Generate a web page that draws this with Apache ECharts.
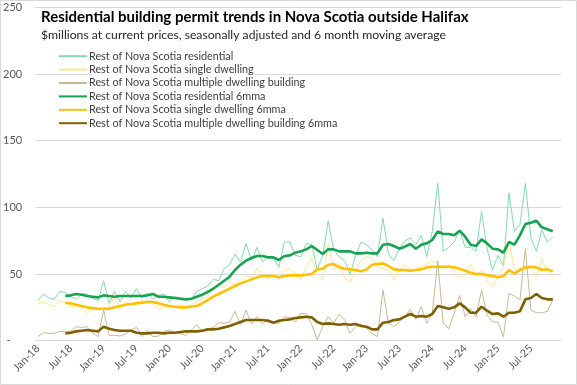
<!DOCTYPE html>
<html><head><meta charset="utf-8">
<script src="https://cdn.jsdelivr.net/npm/echarts@6/dist/echarts.min.js"></script>
<style>html,body{margin:0;padding:0;background:#fff}#c{width:577px;height:385px}</style>
</head><body><div id="c"></div>
<script>
const years = ['18','19','20','21','22','23','24','25'];
const months = ['Jan','Feb','Mar','Apr','May','Jun','Jul','Aug','Sep','Oct','Nov','Dec'];
const categories = [];
years.forEach(y => months.forEach(m => categories.push(m + '-' + y)));

const yTicks = [0, 50, 100, 150, 200, 250];

const residential = [30,35,32,31,37,36,33,31,35,35,32,30,
 45,28,37,29,37,32,39,32,36,31,34,35,
 29,33,32,31,31,37,39,41,46,45,54,57,
 65,59,73,60,70,59,63,62,55,74,74,64,
 63,73,72,53,64,90,68,63,60,50,64,74,
 72,68,63,92,65,60,69,75,77,72,79,63,
 82,118,67,70,74,83,70,70,67,97,69,53,
 64,56,111,82,87,118,77,67,83,74,78,null];

const single = [27.5,29,27,25.5,30,28.5,26,25,25.5,20.5,24,23,
 23.5,26,33,23.5,29,27,29,30,31,29,23.5,25.5,
 25,25.5,27,25.5,27,29,32,33,38,42,40,44,
 42,45.5,49,47,54,50.5,46,50.5,45.5,54,53.5,50.5,
 45.5,55.5,62,50.5,45.5,73,53,58,47,44,53,60,
 63,62,55,54,53,45.5,53,57,54,53,55.5,57,
 60,58,53,57,52,47,50.5,58,48,53,45.5,40.5,
 48,55.5,75,53,54,52,55.5,47,61,54,48.5,null];

const multiple = [3,6,5.5,5.5,7,7,7,10.5,10,10.5,5.5,3,
 23,4,4,3.5,5,8,10,3,8,3,3.5,7,
 8,6,5.5,4,8,12,7,8.5,10,13.5,13,14,
 22,12,23,12.5,18,12.5,16,14,13,18,17.5,14,
 20.5,20,12,0.5,10.5,18,13,20,15.5,5.5,10.5,12.5,
 9,5.5,3,38,13,10.5,14,18,23.5,16,25.5,13,
 20.5,60,13,9,20.5,34,18,24,18,38,19,14,
 14,3,35.5,33.5,30.5,69,23,21,21,22,30.5,null];

const residential6 = [null,null,null,null,null,33.5,34,35,34.5,33.5,33,32.5,
 34,33.5,33,33.5,33.5,33.5,33.5,33.5,34,35,33,33,
 32.5,32,31.5,31,31.5,33,34.5,36.5,39,42,45,48,
 53,57,60,62,63.5,63.5,62.5,62.5,60.5,63.5,64,66,
 67,68.5,71,68,65,68.5,68.5,67,67,67,65.5,65.5,
 66,65.5,65.5,72,72.5,71,69,70.5,72.5,69,72,73,
 75.5,82,80,80,79,82.5,78,72,71,76,73,69,
 68.5,66,74,72,79,87.5,88.5,90,85,83.5,82,null];

const single6 = [null,null,null,null,null,28.5,28,27,26,25,24.5,24,
 24,24,25,26,27,27.5,28,28.5,29,29,28,27,
 26,25.5,25,25,25.5,26,28,30.5,33,35,37,39,
 41,43,44.5,46,47.5,48.5,48.5,48.5,47.5,48.5,49,49,
 49,49.5,50,53.5,54,57,57.5,55,54,53.5,53,52,
 53.5,57,57.5,58,56,53.5,53,53,52.5,53,53.5,55,
 55.5,55.5,55.5,55.5,55,54,52.5,51,50,50,49,48.5,
 47.5,48.5,53,50.5,53,55,55.5,55,53,53.5,52,null];

const multiple6 = [null,null,null,null,null,5.5,6,7,7.5,8,7.5,7,
 10.5,9,8,7.5,7.5,7.5,6,5.5,5.5,6,6,5.5,
 6,6,6.5,7,7,7,7.5,8.5,8.5,9,10,11,
 12.5,14,15.5,15.5,15.5,15.5,15,13.5,15,15.5,16,17,
 17.5,18,17.5,14,12.5,13,12.5,12,12.5,12,12.5,11,
 10.5,8.5,8.5,13.5,14,15.5,16,18,20,18,18.5,18,
 20,26,25,24,25,28,25,21,21,25.5,22.5,20,
 20.5,18,21,21,22,31,32,35,32,31,31,null];

const names = [
 'Rest of Nova Scotia residential',
 'Rest of Nova Scotia single dwelling',
 'Rest of Nova Scotia multiple dwelling building',
 'Rest of Nova Scotia residential 6mma',
 'Rest of Nova Scotia single dwelling 6mma',
 'Rest of Nova Scotia multiple dwelling building 6mma'
];
const dataSets = [residential, single, multiple, residential6, single6, multiple6];
const colors = ['#86d8b0', '#ffe394', '#c8b994', '#16a352', '#ffc000', '#7f6000'];
const widths = [1, 1, 1, 2.6, 2.6, 2.6];

const chart = echarts.init(document.getElementById('c'), null, {renderer: 'canvas'});
const FONT = 'Lato';
chart.setOption({
  animation: false,
  backgroundColor: '#fff',
  color: colors,
  textStyle: {fontFamily: FONT},
  title: [
    {text: 'Residential building permit trends in Nova Scotia outside Halifax', left: 41, top: 10, padding: 0,
     textStyle: {fontFamily: FONT, fontSize: 15, fontWeight: 'bold', color: '#000'}},
    {text: '$millions at current prices, seasonally adjusted and 6 month moving average', left: 41, top: 29, padding: 0,
     textStyle: {fontFamily: FONT, fontSize: 12.2, fontWeight: 'normal', color: '#262626'}}
  ],
  legend: {
    orient: 'vertical', left: 58, top: 49.5, padding: 0, itemGap: 0,
    itemWidth: 28, itemHeight: 8, icon: 'inherit',
    itemStyle: {opacity: 0},
    data: names,
    textStyle: {fontFamily: FONT, fontSize: 10.8, color: '#404040', lineHeight: 13.4, backgroundColor: '#fff', padding: [0, 0, 0, -3]}
  },
  grid: {left: 35, right: 16, top: 7.3, bottom: 44.3, containLabel: false},
  xAxis: {
    type: 'category', data: categories, boundaryGap: true,
    axisTick: {show: false},
    axisLine: {lineStyle: {color: '#d9d9d9'}},
    axisLabel: {interval: 5, rotate: 45, fontFamily: FONT, fontSize: 10.8, color: '#595959', margin: 6}
  },
  yAxis: {
    type: 'value', min: yTicks[0], max: yTicks[yTicks.length - 1], interval: 50,
    splitLine: {lineStyle: {color: '#d9d9d9'}},
    axisLine: {show: false}, axisTick: {show: false},
    axisLabel: {fontFamily: FONT, fontSize: 11, color: '#595959', margin: 13,
      formatter: v => v === 0 ? '-    ' : String(v)}
  },
  graphic: [{type: 'rect', shape: {x: 0.5, y: 0.5, width: 576, height: 384}, style: {fill: 'none', stroke: '#d9d9d9', lineWidth: 1}, z: 100}],
  series: names.map((n, k) => ({
    name: n, type: 'line', data: dataSets[k], symbol: 'none', showSymbol: false,
    lineStyle: {width: widths[k], color: colors[k]}, itemStyle: {color: colors[k]},
    connectNulls: false, z: k < 3 ? 2 : 3
  }))
});
</script></body></html>
